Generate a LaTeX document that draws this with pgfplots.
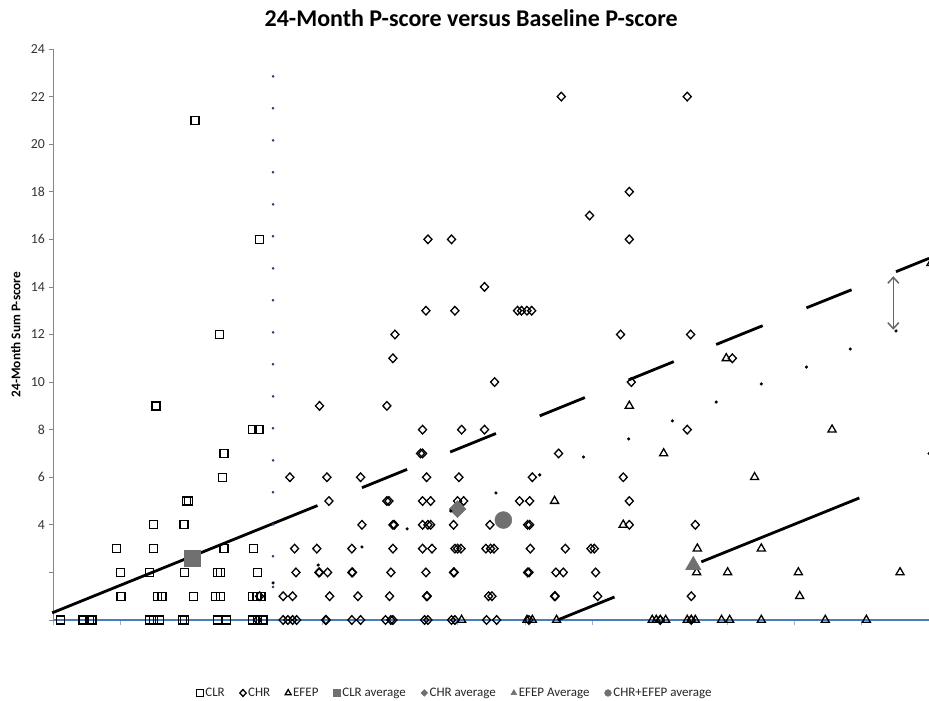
\documentclass[border=0pt]{standalone}
\usepackage{fontspec}
\setmainfont{Carlito}
\usepackage{pgfplots}
\pgfplotsset{compat=1.18}
\usetikzlibrary{arrows.meta}
\definecolor{xblue}{RGB}{74,126,187}
\definecolor{axisgray}{RGB}{134,134,134}
\definecolor{avggray}{RGB}{112,112,112}
\definecolor{dotnavy}{RGB}{45,55,100}
\begin{document}
\begin{tikzpicture}
\useasboundingbox (-53.5pt,-81pt) rectangle (875.5pt,620pt);
\begin{axis}[
  at={(0pt,0pt)}, anchor=south west,
  scale only axis, width=875.5pt, height=571pt,
  xmin=0, xmax=13, ymin=0, ymax=24,
  clip=false,
  axis lines=left,
  x axis line style={draw=xblue, line width=1.5pt, -},
  y axis line style={draw=axisgray, line width=1.3pt, -},
  xtick={0,...,13}, xticklabels={},
  ytick={0,2,...,24}, yticklabels={,,4,6,8,10,12,14,16,18,20,22,24},
  tick align=outside, major tick length=5pt,
  x tick style={draw=xblue!60, line width=0.8pt},
  y tick style={draw=axisgray, line width=0.8pt},
  yticklabel style={font=\fontsize{13.8}{15}\selectfont, text=black!80},
  title={24-Month P-score versus Baseline P-score},
  title style={at={(axis description cs:0.477,1.043)}, anchor=center,
    font=\bfseries\fontsize{24}{27}\selectfont},
  ylabel={24-Month Sum P-score},
  ylabel style={at={(axis description cs:-0.043,0.5)}, anchor=center,
    font=\bfseries\fontsize{13.3}{15}\selectfont},
  legend columns=7,
  legend style={at={(0.4586,-0.1278)}, anchor=center, draw=none,
    font=\fontsize{13}{15}\selectfont, text=black!85,
    /tikz/every even column/.append style={column sep=13pt}},
  legend image code/.code={\draw[#1,mark size=3.4pt] plot coordinates {(0pt,0pt)};},
]
% CLR
\addplot[only marks, mark=square, mark size=4pt, line width=1.3pt, black] coordinates {
(2.10,21) (3.06,16) (2.47,12) (1.52,9) (2.95,8) (3.05,8) (2.53,7) (2.51,6)
(1.98,5) (2.00,5) (1.49,4) (1.93,4) (1.95,4)
(0.94,3) (1.49,3) (2.53,3) (2.97,3)
(1.00,2) (1.43,2) (1.94,2) (2.44,2) (2.48,2) (3.03,2)
(1.00,1) (1.01,1) (1.54,1) (1.61,1) (2.08,1) (2.41,1) (2.48,1) (2.95,1) (3.02,1) (3.08,1)
(0.10,0) (0.44,0) (0.53,0) (0.57,0) (1.43,0) (1.49,0) (1.57,0) (1.92,0) (1.95,0)
(2.43,0) (2.57,0) (2.96,0) (3.03,0) (3.11,0)
};
\addlegendentry{CLR}
% CHR
\addplot[only marks, mark=diamond, mark size=4.3pt, line width=1.3pt, black,
  mark options={xscale=1.25}] coordinates {
(7.54,22) (9.41,22) (8.55,18) (7.96,17) (5.56,16) (5.91,16) (8.55,16) (6.40,14)
(5.53,13) (5.96,13) (6.89,13) (6.95,13) (7.03,13) (7.10,13)
(5.07,12) (8.42,12) (9.46,12) (5.04,11) (10.08,11) (6.55,10) (8.58,10)
(3.95,9) (4.95,9) (5.48,8) (6.06,8) (6.40,8) (9.41,8) (5.45,7) (5.48,7) (7.50,7)
(3.51,6) (4.06,6) (4.56,6) (5.54,6) (6.02,6) (7.11,6) (8.46,6) (13.05,7)
(4.09,5) (4.95,5) (4.98,5) (5.48,5) (5.60,5) (6.00,5) (6.09,5) (6.92,5) (7.07,5) (8.55,5)
(4.58,4) (5.04,4) (5.06,4) (5.48,4) (5.56,4) (5.60,4) (5.94,4) (6.48,4) (7.04,4) (7.07,4) (8.55,4) (9.53,4)
(3.58,3) (3.91,3) (4.43,3) (5.04,3) (5.48,3) (5.62,3) (5.96,3) (6.00,3) (6.05,3)
(6.42,3) (6.49,3) (6.54,3) (7.08,3) (7.60,3) (7.98,3) (8.03,3)
(3.60,2) (3.94,2) (3.95,2) (4.07,2) (4.43,2) (4.44,2) (5.01,2) (5.53,2) (5.94,2) (5.95,2)
(7.04,2) (7.06,2) (7.46,2) (7.57,2) (8.05,2)
(3.06,1) (3.41,1) (3.55,1) (4.10,1) (4.52,1) (4.99,1) (5.54,1) (5.55,1) (6.46,1) (6.51,1)
(7.44,1) (7.45,1) (8.08,1) (9.47,1)
(3.03,0) (3.41,0) (3.48,0) (3.55,0) (3.61,0) (4.04,0) (4.05,0) (4.43,0) (4.56,0) (4.93,0)
(5.01,0) (5.04,0) (5.51,0) (5.56,0) (5.91,0) (5.96,0) (6.43,0) (6.58,0) (7.06,0) (9.01,0) (9.47,0)
};
\addlegendentry{CHR}
% EFEP
\addplot[only marks, mark=triangle, mark size=4.7pt, line width=1.3pt, black] coordinates {
(13.03,15) (9.99,11) (8.55,9) (11.56,8) (9.06,7) (10.41,6) (7.44,5) (8.46,4)
(9.56,3) (10.51,3) (9.55,2) (10.01,2) (11.06,2) (12.57,2) (11.08,1)
(6.06,0) (7.03,0) (7.11,0) (7.47,0) (8.89,0) (8.95,0) (9.01,0) (9.09,0)
(9.41,0) (9.47,0) (9.53,0) (9.92,0) (10.04,0) (10.51,0) (11.46,0) (12.07,0)
};
\addlegendentry{EFEP}
% averages
\addplot[only marks, mark=square*, mark size=8pt, avggray] coordinates {(2.06,2.61)};
\addlegendentry{CLR average}
\addplot[only marks, mark=diamond*, mark size=8.5pt, avggray, mark options={xscale=1.33}] coordinates {(6.00,4.66)};
\addlegendentry{CHR average}
\addplot[only marks, mark=triangle*, mark size=9pt, avggray] coordinates {(9.50,2.30)};
\addlegendentry{EFEP Average}
\addplot[only marks, mark=*, mark size=8.5pt, avggray] coordinates {(6.68,4.20)};
\addlegendentry{CHR+EFEP average}
% small dots
\addplot[only marks, mark=*, mark size=1.4pt, black, forget plot] coordinates {
(3.26,1.56) (3.93,2.31) (4.58,3.07) (5.25,3.83) (5.90,4.58) (6.57,5.34) (7.22,6.10)
(7.87,6.85) (8.54,7.61) (9.19,8.37) (9.84,9.16) (10.51,9.92) (11.18,10.63) (11.83,11.39) (12.51,12.15)
};
\addplot[only marks, mark=*, mark size=1.1pt, dotnavy, forget plot] coordinates {
(3.26,22.85) (3.26,21.51) (3.26,20.16) (3.26,18.82) (3.26,17.47) (3.26,16.13) (3.26,14.78)
(3.26,13.44) (3.26,12.09) (3.26,10.75) (3.26,9.40) (3.26,8.06) (3.26,6.71) (3.26,5.37)
(3.26,4.02) (3.26,2.68) (3.26,1.39)
};
% fitted lines
\addplot[black, line width=2.8pt, forget plot, unbounded coords=jump] coordinates {
(-0.02,0.30) (3.92,4.81) (3.93,nan)
(4.58,5.56) (5.25,6.33) (5.26,nan)
(5.89,7.06) (6.57,7.84) (6.58,nan)
(7.22,8.58) (7.89,9.35) (7.90,nan)
(8.54,10.09) (9.21,10.86) (9.22,nan)
(9.84,11.58) (10.53,12.37) (10.54,nan)
(11.18,13.12) (11.85,13.88) (11.86,nan)
(12.51,14.64) (13.00,15.20)
};
\addplot[black, line width=2.8pt, forget plot, unbounded coords=jump] coordinates {
(7.485,0) (8.33,0.967) (8.34,nan)
(9.62,2.444) (11.965,5.128)
};
\draw[black!60, line width=1.5pt, {Straight Barb[length=6pt,width=11pt]}-{Straight Barb[length=6pt,width=11pt]}]
  (axis cs:12.47,14.45) -- (axis cs:12.47,12.2);
\end{axis}
\end{tikzpicture}
\end{document}
